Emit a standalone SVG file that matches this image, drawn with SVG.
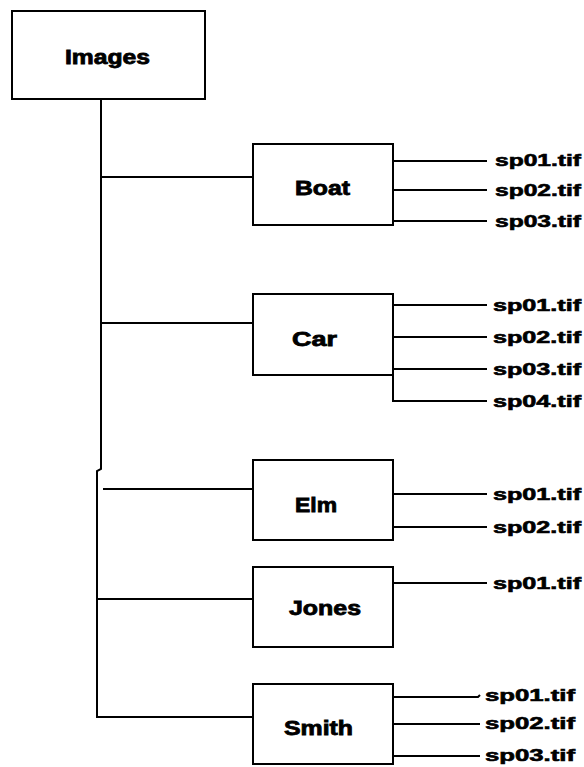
<svg xmlns="http://www.w3.org/2000/svg" width="584" height="767" viewBox="0 0 584 767">
<style>
  .box { fill: #fff; stroke: #000; stroke-width: 2; }
  .ln { fill: none; stroke: #000; stroke-width: 2; }
  .nt { font-family: "Liberation Sans", Arial, sans-serif; font-weight: bold; font-size: 20px; fill: #000; stroke: #000; stroke-width: 0.8; }
  .ft { font-family: "Liberation Sans", Arial, sans-serif; font-weight: bold; font-size: 16px; fill: #000; stroke: #000; stroke-width: 0.6; }
</style>
<rect width="584" height="767" fill="#fff"/>
<g id="connectors">
  <polyline class="ln" points="101,99 101,469 97,471 97,717 253,717"/>
  <line class="ln" x1="101" y1="177" x2="253" y2="177"/>
  <line class="ln" x1="101" y1="323" x2="253" y2="323"/>
  <line class="ln" x1="103" y1="489" x2="253" y2="489"/>
  <line class="ln" x1="97" y1="599" x2="253" y2="599"/>
  <line class="ln" x1="393" y1="161" x2="487" y2="161"/>
  <line class="ln" x1="393" y1="190" x2="487" y2="190"/>
  <line class="ln" x1="393" y1="221" x2="487" y2="221"/>
  <line class="ln" x1="393" y1="305" x2="487" y2="305"/>
  <line class="ln" x1="393" y1="337" x2="487" y2="337"/>
  <line class="ln" x1="393" y1="369" x2="487" y2="369"/>
  <polyline class="ln" points="393,375 393,401 487,401"/>
  <line class="ln" x1="393" y1="494" x2="487" y2="494"/>
  <line class="ln" x1="393" y1="527" x2="487" y2="527"/>
  <line class="ln" x1="393" y1="583" x2="487" y2="583"/>
  <polyline class="ln" points="393,697 478,697 480,695"/>
  <line class="ln" x1="393" y1="724" x2="480" y2="724"/>
  <line class="ln" x1="388" y1="756" x2="480" y2="756"/>
</g>
<g id="images">
  <rect class="box" x="12" y="11" width="193" height="88"/>
  <text class="nt" x="65" y="64" textLength="85" lengthAdjust="spacingAndGlyphs">Images</text>
</g>
<g id="boat">
  <rect class="box" x="253" y="144" width="140" height="81"/>
  <text class="nt" x="295" y="195" textLength="55" lengthAdjust="spacingAndGlyphs">Boat</text>
  <text class="ft" x="495" y="166" textLength="86" lengthAdjust="spacingAndGlyphs">sp01.tif</text>
  <text class="ft" x="495" y="196" textLength="86" lengthAdjust="spacingAndGlyphs">sp02.tif</text>
  <text class="ft" x="495" y="227" textLength="86" lengthAdjust="spacingAndGlyphs">sp03.tif</text>
</g>
<g id="car">
  <rect class="box" x="253" y="294" width="140" height="81"/>
  <text class="nt" x="292" y="346" textLength="45" lengthAdjust="spacingAndGlyphs">Car</text>
  <text class="ft" x="493" y="311" textLength="88" lengthAdjust="spacingAndGlyphs">sp01.tif</text>
  <text class="ft" x="493" y="343" textLength="88" lengthAdjust="spacingAndGlyphs">sp02.tif</text>
  <text class="ft" x="493" y="375" textLength="88" lengthAdjust="spacingAndGlyphs">sp03.tif</text>
  <text class="ft" x="493" y="407" textLength="88" lengthAdjust="spacingAndGlyphs">sp04.tif</text>
</g>
<g id="elm">
  <rect class="box" x="253" y="460" width="140" height="80"/>
  <text class="nt" x="295" y="512" textLength="42" lengthAdjust="spacingAndGlyphs">Elm</text>
  <text class="ft" x="493" y="500" textLength="88" lengthAdjust="spacingAndGlyphs">sp01.tif</text>
  <text class="ft" x="493" y="533" textLength="88" lengthAdjust="spacingAndGlyphs">sp02.tif</text>
</g>
<g id="jones">
  <rect class="box" x="253" y="567" width="140" height="80"/>
  <text class="nt" x="289" y="615" textLength="72" lengthAdjust="spacingAndGlyphs">Jones</text>
  <text class="ft" x="493" y="589" textLength="88" lengthAdjust="spacingAndGlyphs">sp01.tif</text>
</g>
<g id="smith">
  <rect class="box" x="253" y="684" width="140" height="80"/>
  <text class="nt" x="284" y="735" textLength="69" lengthAdjust="spacingAndGlyphs">Smith</text>
  <text class="ft" x="485" y="701" textLength="90" lengthAdjust="spacingAndGlyphs">sp01.tif</text>
  <text class="ft" x="485" y="729" textLength="90" lengthAdjust="spacingAndGlyphs">sp02.tif</text>
  <text class="ft" x="485" y="761" textLength="90" lengthAdjust="spacingAndGlyphs">sp03.tif</text>
</g>
</svg>
